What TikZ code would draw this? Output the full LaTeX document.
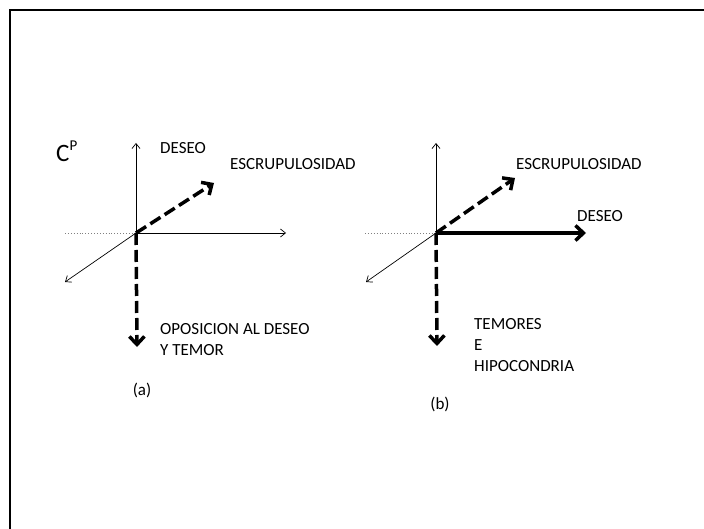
\documentclass[tikz,border=0pt]{standalone}
\usepackage{fontspec}
\setmainfont{Carlito}
\usetikzlibrary{arrows.meta}

\tikzset{
  axis/.style={line width=0.7pt, -{Straight Barb[length=5pt,width=8pt]}},
  guide/.style={gray, dotted, line width=0.9pt},
  boldarrow/.style={line width=3.5pt, -{Straight Barb[length=8pt,width=15pt]}},
  bolddash/.style={boldarrow, dash pattern=on 12pt off 5pt},
  lbl/.style={inner sep=0pt, font=\fontsize{17}{21}\selectfont, align=left},
}

\begin{document}
\begin{tikzpicture}[x=1pt, y=-1pt]
  \useasboundingbox (0,0) rectangle (704,529);
  \draw[line width=1.5pt] (10,529) -- (10,10) -- (704,10);

  % Panel (a)
  \coordinate (oA) at (136,233);
  \coordinate (upA) at (136,143);
  \coordinate (rightA) at (286,233);
  \coordinate (leftA) at (65,233);
  \coordinate (diagA) at (65,282);
  \coordinate (escrA) at (214,183);
  \coordinate (downA) at (137,347);
  \draw[guide] (leftA) -- (oA);
  \draw[axis] (oA) -- (upA);
  \draw[axis] (oA) -- (rightA);
  \draw[axis] (oA) -- (diagA);
  \draw[bolddash] (oA) -- (escrA);
  \draw[bolddash] (oA) -- (downA);
  \node[anchor=base west, inner sep=0pt, font=\fontsize{25}{30}\selectfont] (cp) at (56,162)
    {C\raisebox{11pt}{\fontsize{15}{15}\selectfont P}};
  \node[lbl, anchor=base west] (deseoA) at (160,154) {DESEO};
  \node[lbl, anchor=base west] (escrlblA) at (230,170) {ESCRUPULOSIDAD};
  \node[lbl, anchor=north west] (oposA) at (160,323) {OPOSICION AL DESEO\\Y TEMOR};
  \node[lbl, anchor=base] (capA) at (142,395) {(a)};

  % Panel (b)
  \coordinate (oB) at (436,233);
  \coordinate (upB) at (436,143);
  \coordinate (leftB) at (365,233);
  \coordinate (diagB) at (366,282);
  \coordinate (escrB) at (515,178);
  \coordinate (deseoendB) at (586,233);
  \coordinate (downB) at (437,346);
  \draw[guide] (leftB) -- (oB);
  \draw[axis] (oB) -- (upB);
  \draw[axis] (oB) -- (diagB);
  \draw[bolddash] (oB) -- (escrB);
  \draw[boldarrow] (oB) -- (deseoendB);
  \draw[bolddash] (oB) -- (downB);
  \node[lbl, anchor=base west] (escrlblB) at (516,170) {ESCRUPULOSIDAD};
  \node[lbl, anchor=base west] (deseoB) at (577,222) {DESEO};
  \node[lbl, anchor=north west] (temB) at (474,318) {TEMORES\\E\\HIPOCONDRIA};
  \node[lbl, anchor=base] (capB) at (440,409) {(b)};
\end{tikzpicture}
\end{document}
